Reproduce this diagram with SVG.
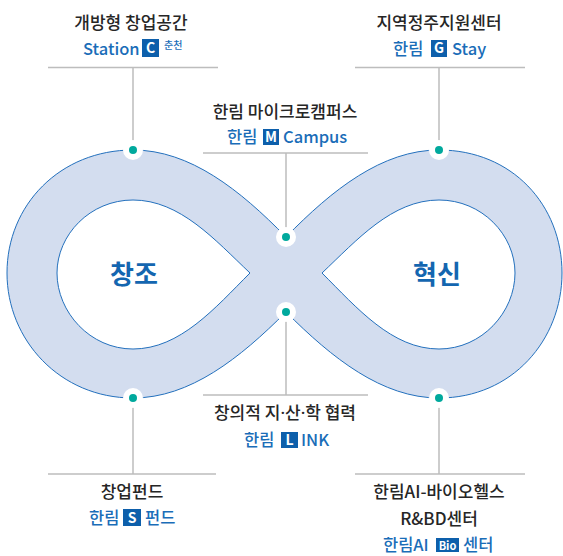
<svg xmlns="http://www.w3.org/2000/svg" width="563" height="556" viewBox="0 0 563 556">
<style>
.t{font-family:"Noto Sans CJK KR","Noto Sans",sans-serif;font-size:17px;font-weight:500;fill:#262626}
.b{font-family:"Noto Sans CJK KR","Noto Sans",sans-serif;font-size:16.5px;font-weight:500;fill:#1a6db8}
.big{font-family:"Noto Sans CJK KR","Noto Sans",sans-serif;font-size:26px;font-weight:700;fill:#1466b0}
.bx{fill:#0d5fab}
.bt{font-family:"Noto Sans CJK KR","Noto Sans",sans-serif;font-size:14px;font-weight:700;fill:#fff}
.md{font-family:"Noto Sans",sans-serif}
.ld{stroke:#bdbdbd;stroke-width:1.5;fill:none}
.halo{fill:#fff}
.dot{fill:#00a99d}
</style>
<g id="infinity">
<path d="M286,237 C240,190 190,150 133,150 C60,150 7,205 7,273 C7,340 60,398 133,398 C190,398 240,358 286,312 C332,358 382,398 439,398 C512,398 562,340 562,273 C562,205 512,150 439,150 C382,150 332,190 286,237 Z" fill="#d3ddef" stroke="#2370bd" stroke-width="1"/>
<path d="M250,273 C215,240 180,200 133,200 C90,200 57,235 57,273 C57,312 90,349 133,349 C180,349 215,308 250,273 Z" fill="#fff" stroke="#2370bd" stroke-width="1"/>
<path d="M322,273 C357,240 392,200 439,200 C482,200 515,235 515,273 C515,312 482,349 439,349 C392,349 357,308 322,273 Z" fill="#fff" stroke="#2370bd" stroke-width="1"/>
<text class="big" x="134" y="284" text-anchor="middle">창조</text>
<text class="big" x="437" y="284" text-anchor="middle">혁신</text>
</g>
<g id="connectors">
<path class="ld" d="M48,67.5 H218 M133,67.5 V150"/>
<path class="ld" d="M355,67.5 H525 M439,67.5 V150"/>
<path class="ld" d="M203,153 H368 M286,153 V237"/>
<path class="ld" d="M203,395 H368 M286,312 V395"/>
<path class="ld" d="M48,474 H216 M133,398 V474"/>
<path class="ld" d="M355,474 H525 M439,398 V474"/>
</g>
<g id="dots">
<circle class="halo" cx="133" cy="150" r="10"/><circle class="dot" cx="133" cy="150" r="4"/>
<circle class="halo" cx="439" cy="150" r="10"/><circle class="dot" cx="439" cy="150" r="4"/>
<circle class="halo" cx="286" cy="237" r="10"/><circle class="dot" cx="286" cy="237" r="4"/>
<circle class="halo" cx="286" cy="312" r="10"/><circle class="dot" cx="286" cy="312" r="4"/>
<circle class="halo" cx="133" cy="398" r="10"/><circle class="dot" cx="133" cy="398" r="4"/>
<circle class="halo" cx="439" cy="398" r="10"/><circle class="dot" cx="439" cy="398" r="4"/>
</g>
<g id="node-station-c">
<text class="t" x="131" y="29" text-anchor="middle">개방형 창업공간</text>
<text class="b" x="83" y="55">Station</text>
<rect class="bx" x="142" y="39" width="17" height="18"/>
<text class="bt" x="150.5" y="53" text-anchor="middle">C</text>
<text class="b" x="164" y="49" style="font-size:10px">춘천</text>
</g>
<g id="node-g-stay">
<text class="t" x="439" y="29" text-anchor="middle">지역정주지원센터</text>
<text class="b" x="393" y="55">한림</text>
<rect class="bx" x="431" y="40" width="16" height="17"/>
<text class="bt" x="439" y="53" text-anchor="middle">G</text>
<text class="b" x="452" y="55">Stay</text>
</g>
<g id="node-m-campus">
<text class="t" x="285" y="118" text-anchor="middle">한림 마이크로캠퍼스</text>
<text class="b" x="227" y="143">한림</text>
<rect class="bx" x="263" y="129" width="16" height="16"/>
<text class="bt" x="271" y="142" text-anchor="middle">M</text>
<text class="b" x="283" y="143">Campus</text>
</g>
<g id="node-l-ink">
<text class="t" x="285" y="419" text-anchor="middle">창의적 지<tspan class="md">·</tspan>산<tspan class="md">·</tspan>학 협력</text>
<text class="b" x="244" y="446">한림</text>
<rect class="bx" x="281" y="432" width="17" height="16"/>
<text class="bt" x="289.5" y="445" text-anchor="middle">L</text>
<text class="b" x="301" y="446">INK</text>
</g>
<g id="node-s-fund">
<text class="t" x="132" y="498" text-anchor="middle">창업펀드</text>
<text class="b" x="89" y="524">한림</text>
<rect class="bx" x="123" y="509" width="18" height="17"/>
<text class="bt" x="132" y="522.5" text-anchor="middle">S</text>
<text class="b" x="145" y="524">펀드</text>
</g>
<g id="node-bio">
<text class="t" x="439" y="498" text-anchor="middle">한림AI-바이오헬스</text>
<text class="t" x="439" y="525" text-anchor="middle">R&amp;BD센터</text>
<text class="b" x="383" y="551">한림AI</text>
<rect class="bx" x="436" y="538" width="23" height="14"/>
<text class="bt" x="447.5" y="549.5" text-anchor="middle" style="font-size:11px">Bio</text>
<text class="b" x="463" y="551">센터</text>
</g>
</svg>
